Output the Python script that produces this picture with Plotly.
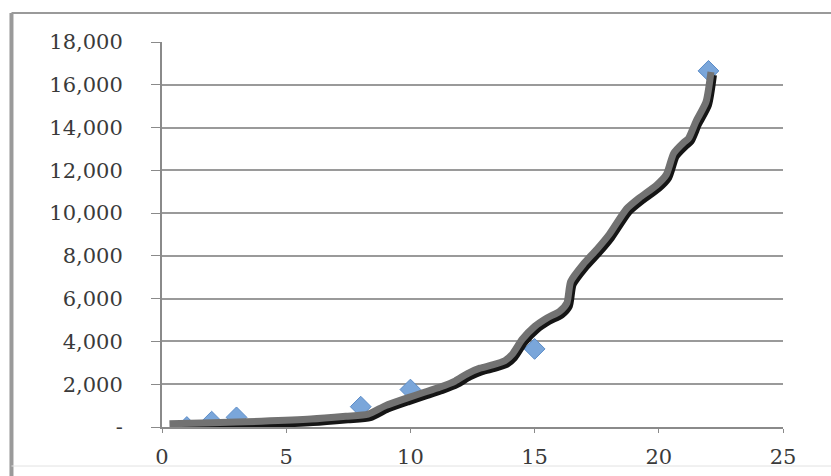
import plotly.graph_objects as go

# observed data points (diamonds)
pt_x = [1, 2, 3, 8, 10, 15, 22]
pt_y = [0, 250, 450, 950, 1750, 3650, 16650]

# thick trend line
line_x = [0.3, 2, 4, 6, 7.4, 8.3, 9.0, 9.85, 10.5, 11.2, 11.8, 12.3, 12.8, 13.3, 13.8,
          14.1, 14.5, 15.0, 15.5, 16.0, 16.3, 16.45, 16.95, 17.5, 18.0, 18.7, 19.2,
          19.9, 20.3, 20.6, 21.0, 21.2, 21.5, 21.9, 22.1]
line_y = [150, 200, 270, 370, 500, 600, 1000, 1350, 1600, 1870, 2150, 2500, 2750, 2900,
          3100, 3400, 4100, 4700, 5100, 5400, 5800, 6800, 7600, 8300, 9000, 10200, 10700,
          11300, 11800, 12800, 13300, 13500, 14300, 15200, 16600]

x_ticks = [0, 5, 10, 15, 20, 25]
y_ticks = [0, 2000, 4000, 6000, 8000, 10000, 12000, 14000, 16000, 18000]
y_labels = ["-", "2,000", "4,000", "6,000", "8,000", "10,000", "12,000", "14,000", "16,000", "18,000"]

font = dict(family="DejaVu Serif", size=21, color="#3a3a3a")

fig = go.Figure()
fig.add_trace(go.Scatter(x=pt_x, y=pt_y, mode="markers",
                         marker=dict(symbol="diamond", size=16, color="#7aa6da",
                                     line=dict(color="#5b8cc8", width=1)),
                         showlegend=False))
# shadow line on shifted overlay axes (a few pixels right and down)
fig.add_trace(go.Scatter(x=line_x, y=line_y, mode="lines", xaxis="x2", yaxis="y2",
                         line=dict(color="#151515", width=8, shape="spline", smoothing=0.6),
                         showlegend=False))
# main gray line on an overlay above the shadow
fig.add_trace(go.Scatter(x=line_x, y=line_y, mode="lines", xaxis="x3", yaxis="y3",
                         line=dict(color="#727272", width=7, shape="spline", smoothing=0.6),
                         showlegend=False))

fig.update_layout(
    width=831, height=476,
    margin=dict(l=162, r=48, t=42, b=49, autoexpand=False),
    paper_bgcolor="white", plot_bgcolor="white",
    xaxis=dict(range=[0, 25], tickvals=x_ticks, showgrid=False, zeroline=False,
               showline=True, linecolor="#8a8a8a", linewidth=2, automargin=False,
               ticks="outside", ticklen=4, tickcolor="#8a8a8a", tickwidth=1,
               tickfont=font, ticklabelstandoff=6),
    yaxis=dict(range=[0, 18000], tickvals=y_ticks, ticktext=y_labels, automargin=False,
               showgrid=True, gridcolor="#9a9a9a", gridwidth=2, zeroline=False,
               showline=True, linecolor="#8a8a8a", linewidth=2,
               ticks="outside", ticklen=9, tickcolor="#8a8a8a", tickwidth=1,
               tickfont=font, ticklabelstandoff=24),
    xaxis2=dict(range=[-0.08, 24.92], overlaying="x", visible=False),
    yaxis2=dict(range=[140, 18140], overlaying="y", visible=False),
    xaxis3=dict(range=[0, 25], overlaying="x", visible=False),
    yaxis3=dict(range=[0, 18000], overlaying="y", visible=False),
    shapes=[
        dict(type="line", xref="paper", yref="paper", x0=-0.2424, x1=-0.2424,
             y0=1.0753, y1=-0.2, line=dict(color="#9a9a9a", width=4)),
        dict(type="line", xref="paper", yref="paper", x0=-0.2424, x1=1.2,
             y0=1.0753, y1=1.0753, line=dict(color="#9a9a9a", width=2)),
        dict(type="line", xref="paper", yref="paper", x0=-0.2424, x1=1.2,
             y0=-0.1013, y1=-0.1013, line=dict(color="#e2e2e2", width=1)),
    ],
)
fig.write_html("out.html", config={"displayModeBar": False},
               post_script="document.body.style.margin='0';document.body.style.overflow='hidden';")
